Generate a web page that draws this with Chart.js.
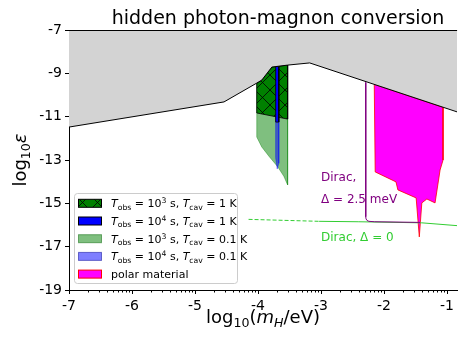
<!DOCTYPE html>
<html>
<head>
<meta charset="utf-8">
<script src="https://cdn.jsdelivr.net/npm/chart.js@4.4.0/dist/chart.umd.min.js"></script>
<style>
  body { margin: 0; background: #fff; }
  #wrap { width: 458px; height: 337px; }
</style>
</head>
<body>
<div id="wrap"><canvas id="chart" width="458" height="337"></canvas></div>
<script>
// axis ticks
var xTicks = [-7, -6, -5, -4, -3, -2, -1];
var yTicks = [-19, -17, -15, -13, -11, -9, -7];

// excluded region (upper boundary)
var boundX = [-7, -4.54, -4.02, -3.94, -3.78, -3.53, -3.18, -0.84];
var boundY = [-11.48, -10.32, -9.45, -9.31, -8.71, -8.62, -8.52, -10.78];

// T_obs = 1e3 s, T_cav = 1 K
var g1X = [-4.02, -4.02, -3.94, -3.78, -3.53, -3.53, -4.02];
var g1Y = [-10.83, -9.45, -9.31, -8.71, -8.62, -11.11, -10.83];
// T_obs = 1e4 s, T_cav = 1 K
var b1X = [-3.72, -3.72, -3.67, -3.67, -3.72];
var b1Y = [-11.25, -8.69, -8.67, -11.25, -11.25];
// T_obs = 1e3 s, T_cav = 0.1 K
var g2X = [-4.02, -4.02, -3.94, -3.78, -3.53, -3.53, -3.59, -3.69, -3.82, -3.94, -4.02];
var g2Y = [-11.94, -9.45, -9.31, -8.71, -8.62, -14.15, -13.75, -13.3, -12.85, -12.4, -11.94];
// T_obs = 1e4 s, T_cav = 0.1 K
var b2X = [-3.72, -3.72, -3.67, -3.67, -3.695, -3.72];
var b2Y = [-12.9, -8.69, -8.67, -13.15, -13.41, -12.9];
// polar material
var pmX = [-2.155, -1.063, -1.063, -1.11, -1.19, -1.32, -1.40, -1.44, -1.49, -1.78, -1.81, -2.14, -2.155];
var pmY = [-9.51, -10.57, -13.0, -13.46, -14.98, -14.80, -14.98, -16.55, -14.75, -14.38, -14.01, -13.55, -9.51];

// Dirac, Delta = 2.5 meV
var d25X = [-2.29, -2.29, -2.285, -2.27, -2.24, -2.15, -1.43];
var d25Y = [-9.42, -15.62, -15.72, -15.79, -15.83, -15.85, -15.88];
// Dirac, Delta = 0 (dashed part, solid part)
var d0aX = [-4.15, -3.03];
var d0aY = [-15.74, -15.83];
var d0bX = [-3.03, -2.4, -1.4, -0.84];
var d0bY = [-15.83, -15.85, -15.9, -16.03];

var legObs = ['3', '4', '3', '4'];
var legCav = ['1', '1', '0.1', '0.1'];

var FONT = '"DejaVu Sans"';
Chart.defaults.font.family = FONT;
Chart.defaults.color = '#000';

function pts(xs, ys) {
    return xs.map(function (x, i) { return {x: x, y: ys[i]}; });
}

var hatchCanvas = document.createElement('canvas');
hatchCanvas.width = 15; hatchCanvas.height = 15;
var hc = hatchCanvas.getContext('2d');
hc.fillStyle = '#008000';
hc.fillRect(0, 0, 15, 15);
hc.strokeStyle = '#000';
hc.lineWidth = 0.8;
hc.beginPath();
hc.moveTo(0, 0); hc.lineTo(15, 15);
hc.moveTo(15, 0); hc.lineTo(0, 15);
hc.stroke();

var ctx = document.getElementById('chart').getContext('2d');
var hatch = ctx.createPattern(hatchCanvas, 'repeat');

// rich text: parts of {t, it, sub, sup}
function rich(c, parts, x, y, size, align) {
    var w = 0;
    var items = parts.map(function (p) {
        var s = (p.sub || p.sup) ? size * 0.7 : size;
        var f = (p.it ? 'italic ' : '') + s + 'px ' + FONT;
        c.font = f;
        var pw = c.measureText(p.t).width;
        w += pw;
        return {t: p.t, f: f, pw: pw, dy: p.sub ? size * 0.22 : (p.sup ? -size * 0.38 : 0)};
    });
    var cx = align === 'center' ? x - w / 2 : (align === 'right' ? x - w : x);
    c.textAlign = 'left';
    c.textBaseline = 'alphabetic';
    items.forEach(function (it) {
        c.font = it.f;
        c.fillText(it.t, cx, y + it.dy);
        cx += it.pw;
    });
    return w;
}

var extras = {
    id: 'extras',
    afterDraw: function (chart) {
        var c = chart.ctx, a = chart.chartArea;
        var xs = chart.scales.x, ys = chart.scales.y;
        c.save();
        // top spine
        c.strokeStyle = '#000';
        c.lineWidth = 1;
        c.beginPath();
        c.moveTo(a.left, a.top + 0.5);
        c.lineTo(a.right, a.top + 0.5);
        c.stroke();
        // minor ticks on x
        c.beginPath();
        for (var n = -7; n <= -1; n++) {
            for (var k = 2; k <= 9; k++) {
                var v = n + Math.log10(k);
                if (v > xs.max) continue;
                var px = Math.round(xs.getPixelForValue(v)) + 0.5;
                c.moveTo(px, a.bottom);
                c.lineTo(px, a.bottom + 2.5);
            }
        }
        c.stroke();

        // title
        c.fillStyle = '#000';
        rich(c, [{t: 'hidden photon-magnon conversion'}], 278, 24, 19, 'center');
        // x label
        rich(c, [{t: 'log'}, {t: '10', sub: true}, {t: '('}, {t: 'm', it: true}, {t: 'H', it: true, sub: true}, {t: '/eV)'}], 263, 323, 18, 'center');
        // y label
        c.save();
        c.translate(26, 160);
        c.rotate(-Math.PI / 2);
        rich(c, [{t: 'log'}, {t: '10', sub: true}, {t: '\u03b5', it: true}], 0, 0, 18, 'center');
        c.restore();

        // annotations
        var ax = xs.getPixelForValue(-3.0);
        c.fillStyle = '#800080';
        rich(c, [{t: 'Dirac,'}], ax, ys.getPixelForValue(-13.77) + 4.4, 12, 'left');
        rich(c, [{t: '\u0394 = 2.5 meV'}], ax, ys.getPixelForValue(-14.78) + 4.4, 12, 'left');
        c.fillStyle = '#32cd32';
        rich(c, [{t: 'Dirac, \u0394 = 0'}], ax, ys.getPixelForValue(-16.52) + 4.4, 12, 'left');

        // legend
        c.fillStyle = 'rgba(255,255,255,0.8)';
        c.strokeStyle = '#cccccc';
        c.beginPath();
        c.roundRect(74.5, 193.5, 163, 90, 3);
        c.fill();
        c.stroke();
        var fills = [hatch, '#0000ff', 'rgba(0,128,0,0.5)', 'rgba(0,0,255,0.5)', '#ff00ff'];
        var edges = ['#000', '#000', 'rgba(0,100,0,0.5)', 'rgba(0,0,150,0.5)', '#ff0000'];
        for (var i = 0; i < 5; i++) {
            var cy = 203.3 + i * 17.7;
            c.fillStyle = fills[i];
            c.fillRect(78.5, cy - 4, 23, 8);
            c.strokeStyle = edges[i];
            c.lineWidth = 1;
            c.strokeRect(78.5, cy - 4, 23, 8);
            c.fillStyle = '#000';
            if (i < 4) {
                rich(c, [
                    {t: 'T', it: true}, {t: 'obs', sub: true}, {t: ' = 10'}, {t: legObs[i], sup: true},
                    {t: ' s, '}, {t: 'T', it: true}, {t: 'cav', sub: true}, {t: ' = ' + legCav[i] + ' K'}
                ], 111, cy + 4, 11, 'left');
            } else {
                rich(c, [{t: 'polar material'}], 111, cy + 4, 11, 'left');
            }
        }
        c.restore();
    }
};

function poly(xs, ys, bg, edge, order) {
    return {data: pts(xs, ys), fill: 'shape', backgroundColor: bg, borderColor: edge, borderWidth: 0.8, order: order};
}

var chart = new Chart(ctx, {
    type: 'line',
    data: {
        datasets: [
            {data: pts(boundX, boundY), fill: 'end', backgroundColor: '#d3d3d3', borderColor: '#000', borderWidth: 1, order: 0},
            {data: pts(d25X, d25Y), fill: false, borderColor: '#800080', borderWidth: 1, order: 1},
            {data: pts(d0aX, d0aY), fill: false, borderColor: '#32cd32', borderWidth: 1, borderDash: [4, 2], order: 1},
            {data: pts(d0bX, d0bY), fill: false, borderColor: '#32cd32', borderWidth: 1, order: 1},
            poly(pmX, pmY, '#ff00ff', '#ff0000', 2),
            poly(b1X, b1Y, '#0000ff', '#000', 3),
            poly(g1X, g1Y, hatch, '#000', 4),
            poly(b2X, b2Y, 'rgba(0,0,255,0.5)', 'rgba(0,0,255,0.5)', 5),
            poly(g2X, g2Y, 'rgba(0,128,0,0.5)', 'rgba(0,128,0,0.5)', 6)
        ]
    },
    options: {
        responsive: false,
        devicePixelRatio: 1,
        animation: false,
        layout: {padding: {top: 30, right: 0, left: 0, bottom: 0}},
        elements: {point: {radius: 0}, line: {tension: 0}},
        plugins: {legend: {display: false}, tooltip: {enabled: false}},
        scales: {
            x: {
                type: 'linear',
                min: -7,
                max: -0.84,
                grid: {drawOnChartArea: false, drawTicks: true, tickLength: 4, color: '#000'},
                border: {display: true, color: '#000', width: 1},
                ticks: {font: {size: 14}, color: '#000', padding: 4},
                afterBuildTicks: function (s) { s.ticks = xTicks.map(function (v) { return {value: v}; }); },
                afterFit: function (s) { s.height = 47; }
            },
            y: {
                min: -19,
                max: -7,
                grid: {drawOnChartArea: false, drawTicks: true, tickLength: 4, color: '#000'},
                border: {display: true, color: '#000', width: 1},
                ticks: {font: {size: 14}, color: '#000', padding: 3},
                afterBuildTicks: function (s) { s.ticks = yTicks.map(function (v) { return {value: v}; }); },
                afterFit: function (s) { s.width = 69; }
            }
        }
    },
    plugins: [extras]
});
</script>
</body>
</html>
